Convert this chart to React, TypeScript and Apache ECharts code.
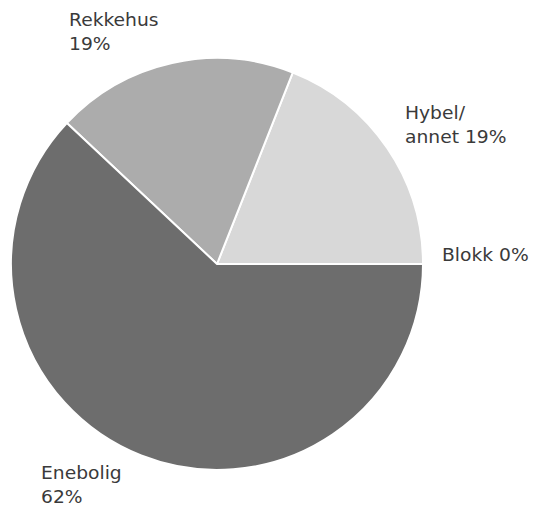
import React, { useEffect, useRef } from "react";
import * as echarts from "echarts";

const categories = ["Blokk", "Hybel/\nannet", "Rekkehus", "Enebolig"];
const values = [0, 19, 19, 62];
const separators = [" ", " ", "\n", "\n"];
const sliceColors = ["#cfcfcf", "#d8d8d8", "#acacac", "#6d6d6d"];
// label anchor: left x, vertical centre of text block
const labelPos = [
  [442, 255],
  [405, 125],
  [69, 32],
  [41, 485],
];

export default function App() {
  const ref = useRef<HTMLDivElement>(null);
  useEffect(() => {
    document.body.style.margin = "0";
    const chart = echarts.init(ref.current!, null, { renderer: "svg" });
    const total = values.reduce((a, b) => a + b, 0);
    chart.setOption({
      animation: false,
      backgroundColor: "#ffffff",
      series: [
        {
          type: "pie",
          center: [217, 264],
          radius: [0, 206],
          startAngle: 0,
          clockwise: false,
          minAngle: 0,
          label: { show: false },
          labelLine: { show: false },
          emphasis: { disabled: true },
          itemStyle: { borderColor: "#ffffff", borderWidth: 2 },
          data: categories.map((c, i) => ({
            name: c,
            value: values[i],
            itemStyle: { color: sliceColors[i] },
          })),
        },
      ],
      graphic: categories.map((c, i) => ({
        type: "text",
        x: labelPos[i][0],
        y: labelPos[i][1],
        scaleX: 1.1,
        silent: true,
        style: {
          text: `${c}${separators[i]}${Math.round((values[i] / total) * 100)}%`,
          fontFamily: "DejaVu Sans",
          fontSize: 17,
          lineHeight: 24,
          fill: "#3a3a3a",
          align: "left",
          verticalAlign: "middle",
        },
      })),
    });
    return () => chart.dispose();
  }, []);
  return <div ref={ref} style={{ width: 537, height: 505 }} />;
}
